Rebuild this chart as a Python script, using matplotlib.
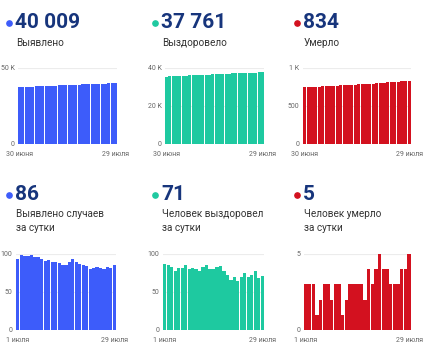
import matplotlib
matplotlib.use("Agg")
import matplotlib.pyplot as plt
from matplotlib.lines import Line2D

plt.rcParams["font.family"] = ["Roboto", "DejaVu Sans"]

# cumulative totals, 30 June - 29 July
total_cases = [37432, 37525, 37624, 37721, 37819, 37918, 38014, 38110, 38203, 38294,
               38386, 38476, 38565, 38653, 38738, 38824, 38913, 39006, 39096, 39183,
               39268, 39352, 39432, 39514, 39597, 39679, 39759, 39842, 39923, 40009]
total_recovered = [35509, 35596, 35681, 35764, 35842, 35923, 36004, 36090, 36170, 36251,
                   36331, 36409, 36492, 36577, 36657, 36737, 36820, 36904, 36982, 37055,
                   37121, 37191, 37256, 37326, 37401, 37471, 37544, 37621, 37690, 37761]
total_deaths = [745, 748, 751, 754, 755, 757, 760, 763, 765, 768,
                771, 772, 774, 777, 780, 783, 786, 788, 792, 795,
                799, 804, 808, 812, 815, 818, 821, 825, 829, 834]

# daily values, 1 July - 29 July
daily_cases = [93, 99, 97, 98, 99, 96, 96, 93, 91, 92, 90, 89, 88, 85, 86,
               89, 93, 90, 87, 85, 84, 80, 82, 83, 82, 80, 83, 81, 86]
daily_recovered = [87, 85, 83, 78, 81, 81, 86, 80, 81, 80, 78, 83, 85, 80, 80,
                   83, 84, 78, 73, 66, 70, 65, 70, 75, 70, 73, 77, 69, 71]
daily_deaths = [3, 3, 3, 1, 2, 3, 3, 2, 3, 3, 1, 2, 3, 3, 3,
                3, 2, 4, 3, 4, 5, 4, 4, 3, 3, 3, 4, 4, 5]

headline = ["40 009", "37 761", "834", "86", "71", "5"]
captions = ["Выявлено", "Выздоровело", "Умерло",
            "Выявлено случаев\nза сутки", "Человек выздоровел\nза сутки",
            "Человек умерло\nза сутки"]
top_dates = ["30 июня", "29 июля"]
bottom_dates = ["1 июля", "29 июля"]

BLUE = "#3d5cfa"
TEAL = "#1ec9a0"
RED = "#d3111f"
NAVY = "#17357c"

W, H = 430, 353
fig = plt.figure(figsize=(W / 100, H / 100), dpi=100)


def fx(x):
    return x / W


def fy(y):
    return 1 - y / H


def panel(x0, x1, ytop, ybot, vals, color, ticks, ticklabels, dates):
    ax = fig.add_axes([fx(x0), fy(ybot), fx(x1 - x0), (ybot - ytop) / H])
    n = len(vals)
    ax.bar(range(n), vals, width=0.92, color=color, zorder=2)
    ax.set_xlim(-0.5, n - 0.5)
    ax.set_ylim(0, ticks[-1])
    ax.set_yticks(ticks)
    ax.set_yticklabels(ticklabels)
    ax.set_xticks([0, n - 1])
    ax.set_xticklabels(dates)
    for s in ax.spines.values():
        s.set_visible(False)
    ax.grid(axis="y", color="#ececec", linewidth=0.8, zorder=0)
    ax.tick_params(length=0, labelsize=5, labelcolor="#666666", pad=2.5)
    ax.tick_params(axis="x", pad=5)
    return ax


def header(x, ynum, ycap, num, cap, color):
    fig.add_artist(Line2D([fx(x)], [fy(ynum + 1)], marker="o", markersize=3.8,
                          color=color, transform=fig.transFigure))
    fig.text(fx(x + 6), fy(ynum), num, fontsize=15, fontweight="bold",
             color=NAVY, va="center", ha="left")
    fig.text(fx(x + 7), fy(ycap), cap, fontsize=7.2, color="#333333",
             va="top", ha="left", linespacing=1.55)


# top row
header(9, 22, 38, headline[0], captions[0], BLUE)
header(155, 22, 38, headline[1], captions[1], TEAL)
header(297, 22, 38, headline[2], captions[2], RED)
panel(18, 117, 68, 144, total_cases, BLUE, [0, 50000], ["0", "50 K"], top_dates)
panel(165, 264, 68, 144, total_recovered, TEAL, [0, 20000, 40000],
      ["0", "20 K", "40 K"], top_dates)
panel(303, 411, 68, 144, total_deaths, RED, [0, 500, 1000],
      ["0", "500", "1 K"], top_dates)

# bottom row
header(9, 194, 209, headline[3], captions[3], BLUE)
header(155, 194, 209, headline[4], captions[4], TEAL)
header(297, 194, 209, headline[5], captions[5], RED)
panel(16, 116, 254, 330, daily_cases, BLUE, [0, 50, 100], ["0", "50", "100"],
      bottom_dates)
panel(163, 264, 254, 330, daily_recovered, TEAL, [0, 50, 100], ["0", "50", "100"],
      bottom_dates)
panel(304, 411, 254, 330, daily_deaths, RED, [0, 5], ["0", "5"], bottom_dates)

fig.savefig("out.png", dpi=100)
